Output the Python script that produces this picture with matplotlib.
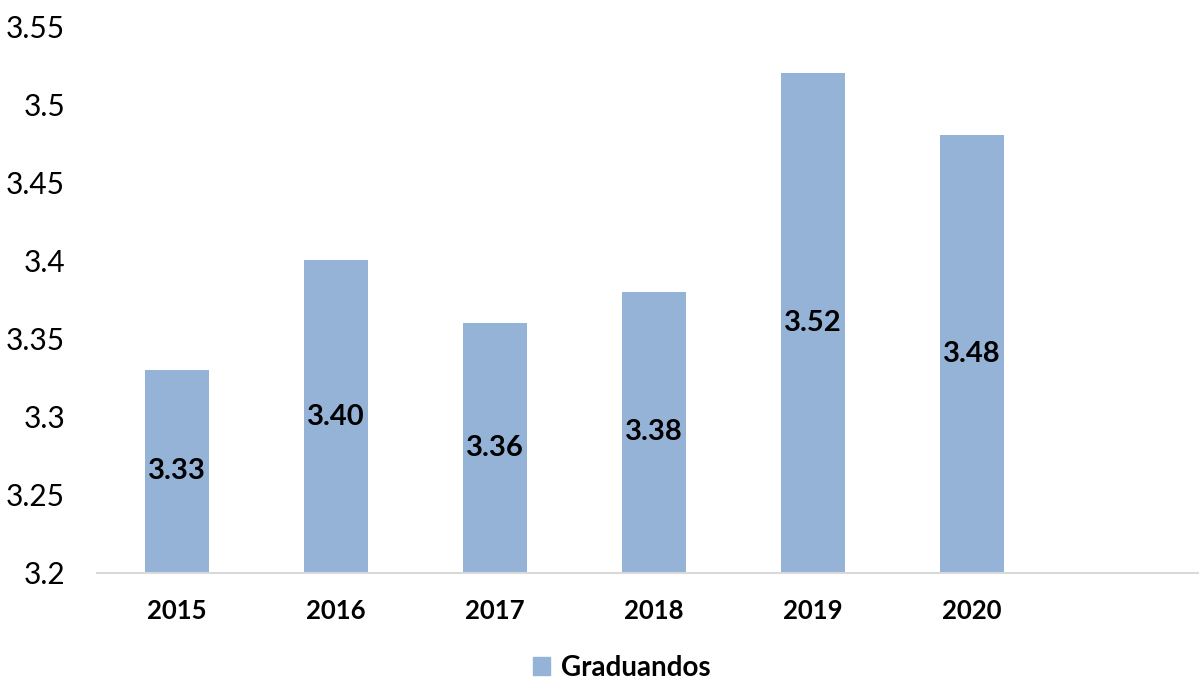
import matplotlib
matplotlib.use("Agg")
from matplotlib import pyplot as plt
from matplotlib.patches import Patch

years = ["2015", "2016", "2017", "2018", "2019", "2020"]
graduandos = [3.33, 3.40, 3.36, 3.38, 3.52, 3.48]
y_ticks = [3.2, 3.25, 3.3, 3.35, 3.4, 3.45, 3.5, 3.55]
y_tick_labels = ["3.2", "3.25", "3.3", "3.35", "3.4", "3.45", "3.5", "3.55"]

bar_color = "#95B3D7"
plt.rcParams["font.family"] = ["Lato", "DejaVu Sans"]

fig = plt.figure(figsize=(11.99, 6.85), dpi=100)
ax = fig.add_axes([97 / 1199, 1 - 573 / 685, 1101 / 1199, (573 - 26) / 685])

x = list(range(len(years)))
base = 3.2
bars = ax.bar(x, [v - base for v in graduandos], bottom=base, width=0.4,
              color=bar_color, zorder=2)

for xi, v in zip(x, graduandos):
    ax.text(xi, (base + v) / 2, "%.2f" % v, ha="center", va="center",
            fontsize=21, fontweight="bold", color="black")

ax.set_ylim(3.2, 3.55)
ax.set_xlim(-0.503, 6.42)
ax.set_yticks(y_ticks)
ax.set_yticklabels(y_tick_labels, fontsize=21.5)
ax.set_xticks(x)
ax.set_xticklabels(years, fontsize=18.5, fontweight="bold")
ax.tick_params(axis="both", length=0)
ax.tick_params(axis="y", pad=23)
ax.tick_params(axis="x", pad=19)

for side in ["top", "right", "left"]:
    ax.spines[side].set_visible(False)
ax.spines["bottom"].set_color("#D9D9D9")
ax.spines["bottom"].set_linewidth(1.5)

handle = Patch(color=bar_color, label="Graduandos")
leg = fig.legend(handles=[handle], loc="center", bbox_to_anchor=(622 / 1199, 1 - 668 / 685),
                 frameon=False, prop={"size": 20, "weight": "bold"},
                 handlelength=0.6, handleheight=0.6, handletextpad=0.4)

fig.savefig("out.png", dpi=100)
